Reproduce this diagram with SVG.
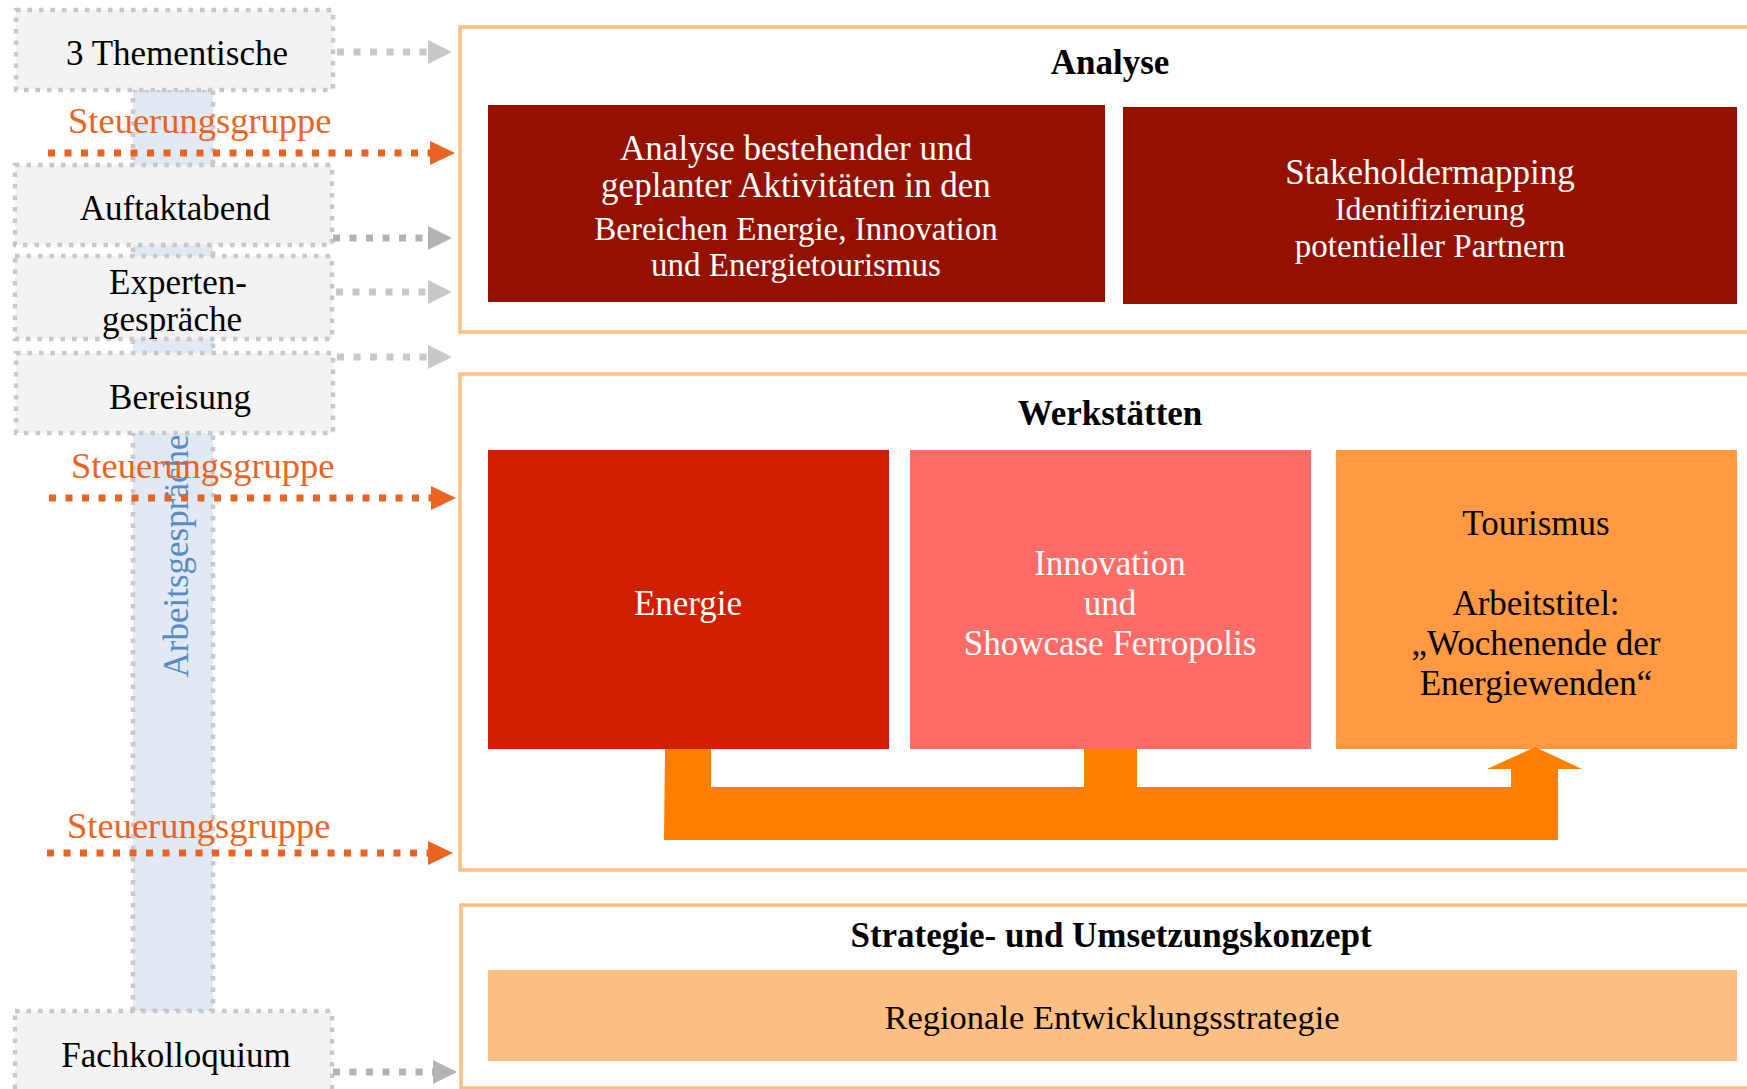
<svg xmlns="http://www.w3.org/2000/svg" width="1747" height="1089" viewBox="0 0 1747 1089">
<defs>
<style>
text{font-family:"Liberation Serif","DejaVu Serif",serif;}
.lbl{font-size:35px;fill:#000;text-anchor:middle;}
.st{font-size:36.5px;fill:#EB6320;}
.ttl{font-size:35px;font-weight:bold;fill:#000;text-anchor:middle;}
.wt{fill:#fff;text-anchor:middle;}
.bk{fill:#000;text-anchor:middle;}
.lbox{fill:#F3F3F3;stroke:#C8C8C8;stroke-width:4.5;stroke-dasharray:4.5 7;}
.cont{fill:#fff;stroke:#FDBE84;stroke-width:3.5;}
.gl{fill:none;stroke:#C8C8C8;stroke-width:7;stroke-dasharray:7 9.5;}
.gd{fill:none;stroke:#B3B3B3;stroke-width:7;stroke-dasharray:7 9.5;}
.ol{fill:none;stroke:#EB6320;stroke-width:7;stroke-dasharray:7 9.5;}
</style>
<marker id="hg" markerUnits="userSpaceOnUse" markerWidth="24" markerHeight="24" refX="0" refY="12" orient="auto"><path d="M0,0 L24,12 L0,24 z" fill="#C8C8C8"/></marker>
<marker id="hd" markerUnits="userSpaceOnUse" markerWidth="24" markerHeight="24" refX="0" refY="12" orient="auto"><path d="M0,0 L24,12 L0,24 z" fill="#B3B3B3"/></marker>
<marker id="ho" markerUnits="userSpaceOnUse" markerWidth="25" markerHeight="24" refX="0" refY="12" orient="auto"><path d="M0,0 L25,12 L0,24 z" fill="#EB6320"/></marker>
</defs>
<rect width="1747" height="1089" fill="#fff"/>

<!-- containers -->
<g id="analyse">
<rect class="cont" x="460" y="27" width="1300" height="305"/>
<text class="ttl" x="1110" y="74">Analyse</text>
</g>
<g id="werkstaetten">
<rect class="cont" x="460" y="374" width="1300" height="496"/>
<text class="ttl" x="1110" y="425">Werkstätten</text>
</g>
<g id="strategie">
<rect class="cont" x="461" y="905" width="1300" height="183"/>
<text class="ttl" x="1111" y="947">Strategie- und Umsetzungskonzept</text>
</g>

<!-- analyse boxes -->
<g id="bestand">
<rect x="488" y="105" width="617" height="197" fill="#941100"/>
<text class="wt" font-size="35" x="796"><tspan x="796" y="160">Analyse bestehender und</tspan><tspan x="796" y="197">geplanter Aktivitäten in den</tspan><tspan x="796" y="240" font-size="33">Bereichen Energie, Innovation</tspan><tspan x="796" y="276" font-size="33">und Energietourismus</tspan></text>
</g>
<g id="stakeholder">
<rect x="1123" y="107" width="614" height="197" fill="#941100"/>
<text class="wt" x="1430"><tspan x="1430" y="184" font-size="35">Stakeholdermapping</tspan><tspan x="1430" y="220" font-size="32">Identifizierung</tspan><tspan x="1430" y="257" font-size="33">potentieller Partnern</tspan></text>
</g>

<!-- werkstaetten boxes -->
<g id="energie">
<rect x="488" y="450" width="401" height="299" fill="#D11F00"/>
<text class="wt" font-size="35" x="688" y="615">Energie</text>
</g>
<g id="innovation">
<rect x="910" y="450" width="401" height="299" fill="#FF6B67"/>
<text class="wt" font-size="35"><tspan x="1110" y="575">Innovation</tspan><tspan x="1110" y="615">und</tspan><tspan x="1110" y="655">Showcase Ferropolis</tspan></text>
</g>
<g id="tourismus">
<rect x="1336" y="450" width="401" height="299" fill="#FF9A42"/>
<text class="bk" font-size="35"><tspan x="1536" y="535">Tourismus</tspan><tspan x="1536" y="615">Arbeitstitel:</tspan><tspan x="1536" y="655">„Wochenende der</tspan><tspan x="1536" y="695">Energiewenden“</tspan></text>
</g>

<!-- strategie box -->
<g id="regional">
<rect x="488" y="970" width="1249" height="91" fill="#FFBE82"/>
<text class="bk" font-size="34.5" x="1112" y="1029">Regionale Entwicklungsstrategie</text>
</g>

<!-- left column -->
<g id="arbeitsgespraeche">
<rect x="133" y="90" width="80" height="921" fill="#E1EAF4" stroke="#C8C8C8" stroke-width="4.5" stroke-dasharray="4.5 7"/>
</g>

<g id="thementische">
<rect class="lbox" x="16" y="10" width="317" height="80"/>
<text class="lbl" x="177" y="65">3 Thementische</text>
</g>
<g id="auftaktabend">
<rect class="lbox" x="15" y="165" width="317" height="80"/>
<text class="lbl" x="175" y="220">Auftaktabend</text>
</g>
<g id="experten">
<rect class="lbox" x="15" y="256" width="317" height="83"/>
<text class="lbl"><tspan x="178" y="294">Experten-</tspan><tspan x="172" y="331">gespräche</tspan></text>
</g>
<g id="bereisung">
<rect class="lbox" x="16" y="353" width="317" height="80"/>
<text class="lbl" x="180" y="409">Bereisung</text>
</g>
<g id="fachkolloquium">
<rect class="lbox" x="15" y="1011" width="317" height="90"/>
<text class="lbl" x="176" y="1067">Fachkolloquium</text>
</g>

<text fill="#5A8AC6" font-size="35" text-anchor="middle" transform="translate(188,556) rotate(-90)">Arbeitsgespräche</text>

<!-- connectors -->
<g id="connectors">
<line class="gl" x1="337" y1="52" x2="428" y2="52" marker-end="url(#hg)"/>
<line class="gd" x1="333" y1="238" x2="428" y2="238" marker-end="url(#hd)"/>
<line class="gl" x1="336" y1="292" x2="428" y2="292" marker-end="url(#hg)"/>
<line class="gl" x1="337" y1="357" x2="428" y2="357" marker-end="url(#hg)"/>
<line class="gd" x1="333" y1="1072" x2="433" y2="1072" marker-end="url(#hd)"/>
<line class="ol" x1="48" y1="153" x2="430" y2="153" marker-end="url(#ho)"/>
<line class="ol" x1="49" y1="498" x2="431" y2="498" marker-end="url(#ho)"/>
<line class="ol" x1="47" y1="853" x2="428" y2="853" marker-end="url(#ho)"/>
<path d="M665,749 H711 V787 H1084 V749 H1137 V787 H1511 V769 H1487 L1535,747 L1582,769 H1558 V840 H664 Z" fill="#FF7F00"/>
</g>

<text class="st" x="68" y="133">Steuerungsgruppe</text>
<text class="st" x="71" y="478">Steuerungsgruppe</text>
<text class="st" x="67" y="838">Steuerungsgruppe</text>
</svg>
